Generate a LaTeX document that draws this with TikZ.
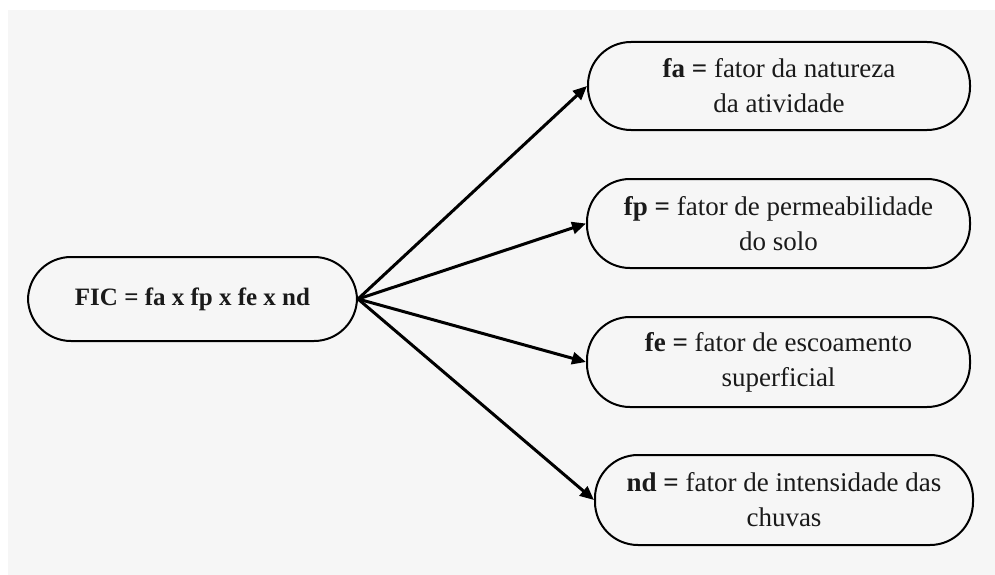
\documentclass[tikz,border=0pt]{standalone}
\usepackage{fontspec}
\setmainfont{Liberation Serif}
\usetikzlibrary{arrows.meta}
\definecolor{bggray}{HTML}{F6F6F6}
\definecolor{inkc}{HTML}{1A1A1A}
\tikzset{
  pill/.style={draw=black, line width=2pt, rounded corners=43pt, align=center,
    text=inkc, inner sep=0pt, font=\fontsize{27}{35}\selectfont},
  link/.style={line width=3pt, -{Triangle[length=14pt,width=12pt]}}
}
\begin{document}
\begin{tikzpicture}[x=1pt,y=-1pt]
\useasboundingbox (0,0) rectangle (995,575);
\fill[white] (0,0) rectangle (995,575);
\fill[bggray] (8,10) rectangle (995,575);
\node[pill, minimum width=329pt, minimum height=84pt, font=\fontsize{25}{30}\selectfont\bfseries] (fic) at (192.5,299) {FIC = fa x fp x fe x nd};
\node[pill, minimum width=382pt, minimum height=88pt] (fa) at (779,86) {\textbf{fa =} fator da natureza\\da atividade};
\node[pill, minimum width=383pt, minimum height=89pt] (fp) at (778.5,223.5) {\textbf{fp =} fator de permeabilidade\\do solo};
\node[pill, minimum width=383pt, minimum height=90pt] (fe) at (778.5,362) {\textbf{fe =} fator de escoamento\\superficial};
\node[pill, minimum width=378pt, minimum height=90pt] (nd) at (784,500) {\textbf{nd =} fator de intensidade das\\chuvas};
\draw[link] (fic.east) -- (fa.west);
\draw[link] (fic.east) -- (fp.west);
\draw[link] (fic.east) -- (fe.west);
\draw[link] (fic.east) -- (nd.west);
\end{tikzpicture}
\end{document}
